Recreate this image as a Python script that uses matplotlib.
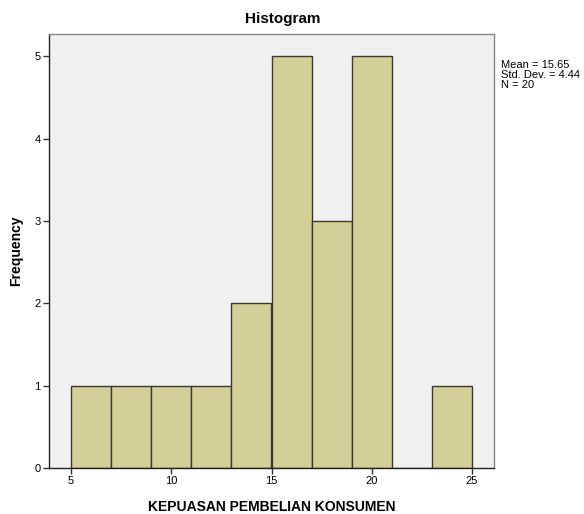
import matplotlib
matplotlib.use("Agg")
import matplotlib.pyplot as plt

plt.rcParams['font.family'] = ['Liberation Sans', 'DejaVu Sans']

bin_edges = [5, 7, 9, 11, 13, 15, 17, 19, 21, 23, 25]
counts = [1, 1, 1, 1, 2, 5, 3, 5, 0, 1]
x_ticks = [5, 10, 15, 20, 25]
y_ticks = [0, 1, 2, 3, 4, 5]
stats_text = "Mean = 15.65\nStd. Dev. = 4.44\nN = 20"

fig = plt.figure(figsize=(5.84, 5.14), dpi=100)
ax = fig.add_axes([49/584, 1-468/514, 445/584, 434/514])
ax.set_facecolor('#F0F0F0')

lefts = bin_edges[:-1]
widths = [bin_edges[i+1]-bin_edges[i] for i in range(len(counts))]
ax.bar(lefts, counts, width=widths, align='edge', color='#D3CF98',
       edgecolor='#3A3A30', linewidth=1.0)

ax.set_xlim(3.90, 26.10)
ax.set_ylim(0, 5.27)
ax.set_xticks(x_ticks)
ax.set_yticks(y_ticks)
ax.tick_params(axis='both', labelsize=8, length=4, width=1, color='#333333', pad=2)
for s in ['left', 'bottom']:
    ax.spines[s].set_color('#222222')
    ax.spines[s].set_linewidth(1.0)
for s in ['top', 'right']:
    ax.spines[s].set_color('#888888')
    ax.spines[s].set_linewidth(1.0)

fig.text(283/584, 1-19/514, 'Histogram', fontsize=11, fontweight='bold',
         ha='center', va='center')
ax.set_xlabel('KEPUASAN PEMBELIAN KONSUMEN', fontsize=10, fontweight='bold', labelpad=10)
ax.set_ylabel('Frequency', fontsize=10, fontweight='bold', labelpad=8)

fig.text(501/584, 1-60/514, stats_text, fontsize=8, va='top', ha='left', linespacing=1.0)

fig.savefig('out.png', dpi=100, facecolor='white')
